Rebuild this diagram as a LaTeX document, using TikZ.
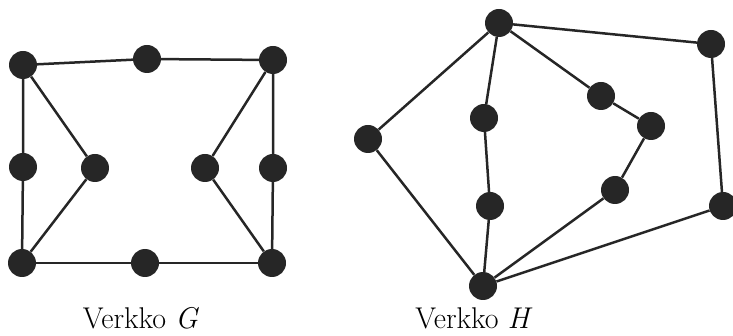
\documentclass[tikz,border=0pt]{standalone}
\usepackage{fontspec}
\begin{document}
\begin{tikzpicture}[x=1pt,y=-1pt,
  vtx/.style={circle,fill=black!85,minimum size=28pt,inner sep=0pt},
  edge/.style={line width=2.5pt,black!85},
  lbl/.style={anchor=base,font=\fontsize{30}{34}\selectfont}]
\useasboundingbox (0,0) rectangle (733,336);
% Graph G
\node[vtx] (tl) at (23,65) {};
\node[vtx] (tm) at (147,59) {};
\node[vtx] (tr) at (273,60) {};
\node[vtx] (lm) at (23,167) {};
\node[vtx] (il) at (95,168) {};
\node[vtx] (ir) at (205,168) {};
\node[vtx] (rm) at (273,168) {};
\node[vtx] (bl) at (22,263) {};
\node[vtx] (bm) at (145,263) {};
\node[vtx] (br) at (272,263) {};
\draw[edge] (tl) -- (tm) -- (tr);
\draw[edge] (tl) -- (lm) -- (bl);
\draw[edge] (tl) -- (il) -- (bl);
\draw[edge] (bl) -- (bm) -- (br);
\draw[edge] (tr) -- (ir) -- (br);
\draw[edge] (tr) -- (rm) -- (br);
% Graph H
\node[vtx] (ht) at (499,23) {};
\node[vtx] (hftr) at (711,44) {};
\node[vtx] (hl) at (368,139) {};
\node[vtx] (hi) at (484,118) {};
\node[vtx] (hib) at (490,206) {};
\node[vtx] (hr1) at (601,96) {};
\node[vtx] (hr2) at (651,126) {};
\node[vtx] (hr3) at (615,190) {};
\node[vtx] (hfbr) at (723,206) {};
\node[vtx] (hb) at (483,286) {};
\draw[edge] (ht) -- (hftr) -- (hfbr) -- (hb);
\draw[edge] (ht) -- (hl) -- (hb);
\draw[edge] (ht) -- (hi) -- (hib) -- (hb);
\draw[edge] (ht) -- (hr1) -- (hr2) -- (hr3) -- (hb);
% Labels
\node[lbl] (lg) at (141,329) {Verkko \textit{G}};
\node[lbl] (lh) at (474,329) {Verkko \textit{H}};
\end{tikzpicture}
\end{document}
